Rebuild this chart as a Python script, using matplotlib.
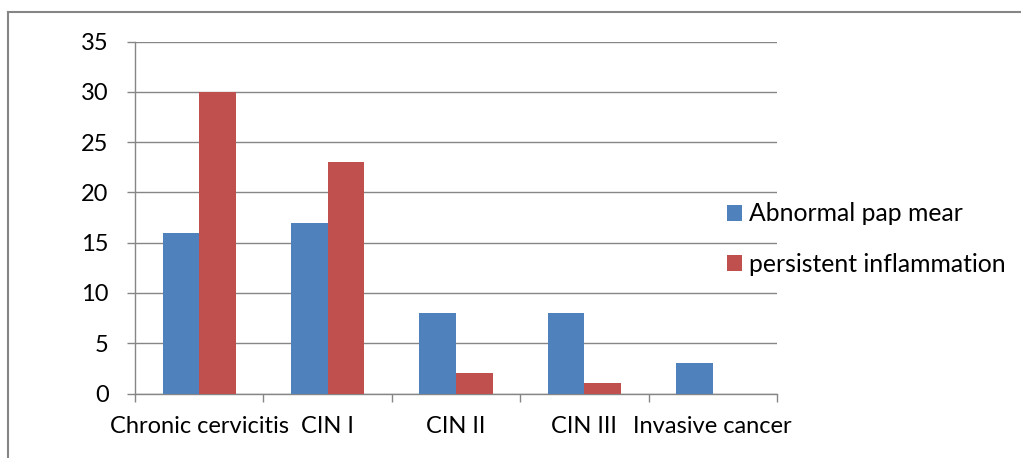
import matplotlib
matplotlib.use("Agg")
import matplotlib.pyplot as plt
from matplotlib.lines import Line2D
import numpy as np

categories = ["Chronic cervicitis", "CIN I", "CIN II", "CIN III", "Invasive cancer"]
abnormal_pap = [16, 17, 8, 8, 3]
persistent_inflammation = [30, 23, 2, 1, 0]
series_labels = ["Abnormal pap mear", "persistent inflammation"]
y_ticks = [0, 5, 10, 15, 20, 25, 30, 35]

plt.rcParams['font.family'] = ['Lato', 'DejaVu Sans']
FS = 17
LFS = 17.8
GRAY = "#868686"
BLUE = "#4F81BD"
RED = "#C0504D"

fig = plt.figure(figsize=(10.21, 4.58), dpi=100)
ax = fig.add_axes([135/1021, 64.5/458, 642/1021, 352/458])

x = np.arange(len(categories))
w = 1/3.5
ax.bar(x - w/2, abnormal_pap, width=w, color=BLUE, label=series_labels[0], zorder=3)
ax.bar(x + w/2, persistent_inflammation, width=w, color=RED, label=series_labels[1], zorder=3)

ax.set_xlim(-0.5, len(categories) - 0.5)
ax.set_ylim(0, 35)
ax.set_yticks(y_ticks)
ax.set_yticklabels([str(v) for v in y_ticks])
ax.yaxis.grid(True, color=GRAY, linewidth=1.0, zorder=0)
ax.set_axisbelow(True)

ax.set_xticks(x)
ax.set_xticklabels(categories)
ax.set_xticks(np.arange(len(categories) + 1) - 0.5, minor=True)
ax.tick_params(axis='x', which='major', length=0, pad=16, labelsize=FS, colors='black')
ax.tick_params(axis='x', which='minor', length=6, width=1.0, color=GRAY, direction='out')
ax.tick_params(axis='y', length=6, width=1.0, color=GRAY, pad=13, labelsize=FS)
ax.tick_params(axis='y', colors=GRAY, labelcolor='black')
ax.tick_params(axis='x', which='minor', colors=GRAY)

for s in ['top', 'right']:
    ax.spines[s].set_visible(False)
for s in ['left', 'bottom']:
    ax.spines[s].set_color(GRAY)
    ax.spines[s].set_linewidth(1.0)

leg = fig.legend(loc='center left', bbox_to_anchor=(727/1021, 219/458), frameon=False,
                 fontsize=LFS, handlelength=0.6, handleheight=0.6, handletextpad=0.28,
                 labelspacing=1.1, borderpad=0, borderaxespad=0)

# outer frame (clipped at right and bottom)
fig.add_artist(Line2D([8/1021, 8/1021], [0, 1 - 12/458], transform=fig.transFigure, color=GRAY, linewidth=1.5))
fig.add_artist(Line2D([8/1021, 1], [1 - 12/458, 1 - 12/458], transform=fig.transFigure, color=GRAY, linewidth=1.5))

fig.savefig("out.png", dpi=100)
